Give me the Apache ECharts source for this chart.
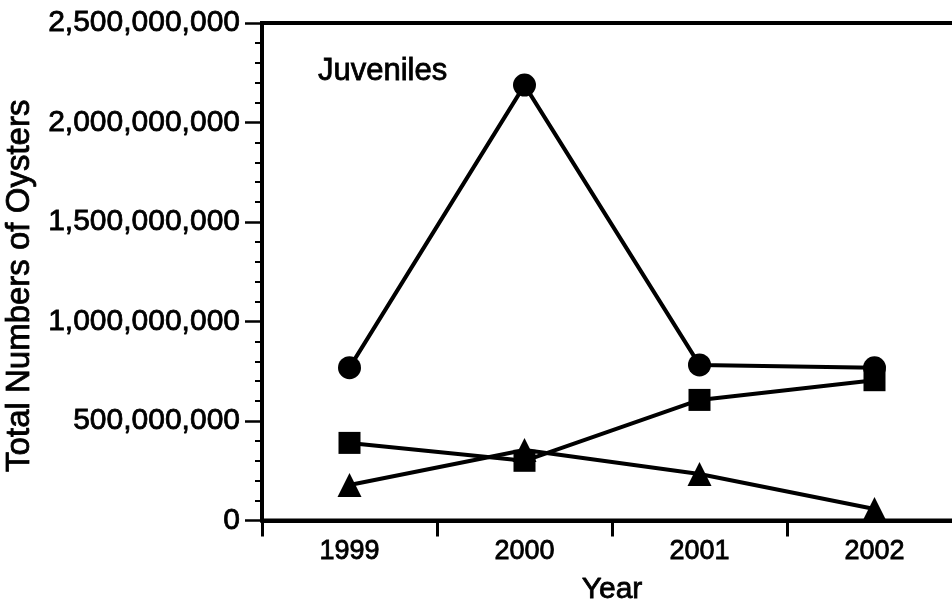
<!DOCTYPE html>
<html>
<head>
<meta charset="utf-8">
<script src="https://cdn.jsdelivr.net/npm/echarts@6/dist/echarts.min.js"></script>
<style>html,body{margin:0;padding:0;background:#fff;}#c{width:952px;height:606px;}</style>
</head>
<body>
<div id="c"></div>
<script>
const years = ['1999', '2000', '2001', '2002'];
const circleSeries = [768000000, 2188000000, 782000000, 767000000];
const squareSeries = [390000000, 300000000, 606000000, 705000000];
const triangleSeries = [178000000, 354000000, 234000000, 58000000];
const yTicks = { min: 0, max: 2500000000, interval: 500000000 };
const panelLabel = 'Juveniles';

const FONT = '"Liberation Sans", Arial, Helvetica, sans-serif';
const chart = echarts.init(document.getElementById('c'), null, { renderer: 'canvas' });

function fmt(v) {
  return String(Math.round(v)).replace(/\B(?=(\d{3})+(?!\d))/g, ',');
}
const bleed = { textBorderColor: '#000', textBorderWidth: 0.8 };

const lineStyle = { color: '#000', width: 4 };
function mk(name, data, symbol, size) {
  return {
    name: name, type: 'line', data: data, symbol: symbol, symbolSize: size,
    showSymbol: true, lineStyle: lineStyle,
    itemStyle: { color: '#000', borderColor: '#000', borderWidth: 0 },
    animation: false, z: 3
  };
}

chart.setOption({
  backgroundColor: '#fff',
  animation: false,
  title: {
    text: panelLabel, left: 313, top: 51,
    textStyle: Object.assign({ fontFamily: FONT, fontSize: 31, fontWeight: 'normal', color: '#000' }, bleed)
  },
  grid: {
    left: 262, top: 23, right: -10, bottom: 85.5,
    outerBoundsMode: 'none', containLabel: false,
    show: true, borderColor: '#000', borderWidth: 4, backgroundColor: 'transparent'
  },
  xAxis: {
    type: 'category', data: years, boundaryGap: true,
    name: 'Year', nameLocation: 'middle', nameGap: 54,
    nameTextStyle: Object.assign({ fontFamily: FONT, fontSize: 30, color: '#000' }, bleed),
    axisLine: { show: true, lineStyle: { color: '#000', width: 4 } },
    axisTick: { show: true, inside: false, length: 16, lineStyle: { color: '#000', width: 3 } },
    axisLabel: Object.assign({ fontFamily: FONT, fontSize: 27, color: '#000', margin: 18 }, bleed),
    splitLine: { show: false }
  },
  yAxis: {
    type: 'value', min: yTicks.min, max: yTicks.max, interval: yTicks.interval,
    name: 'Total Numbers of Oysters', nameLocation: 'middle', nameGap: 216, nameRotate: 90,
    nameTextStyle: Object.assign({ fontFamily: FONT, fontSize: 33, color: '#000', padding: [0, 28, 0, 0] }, bleed),
    axisLine: { show: true, lineStyle: { color: '#000', width: 4 } },
    axisTick: { show: true, inside: false, length: 17, lineStyle: { color: '#000', width: 2.5 } },
    minorTick: { show: true, splitNumber: 5, length: 7, lineStyle: { color: '#000', width: 2 } },
    axisLabel: Object.assign({ fontFamily: FONT, fontSize: 30, color: '#000', margin: 22, formatter: fmt }, bleed),
    splitLine: { show: false }
  },
  series: [
    mk('circle', circleSeries, 'circle', 23),
    mk('square', squareSeries, 'rect', 22),
    mk('triangle', triangleSeries, 'triangle', 24)
  ]
});
</script>
</body>
</html>
